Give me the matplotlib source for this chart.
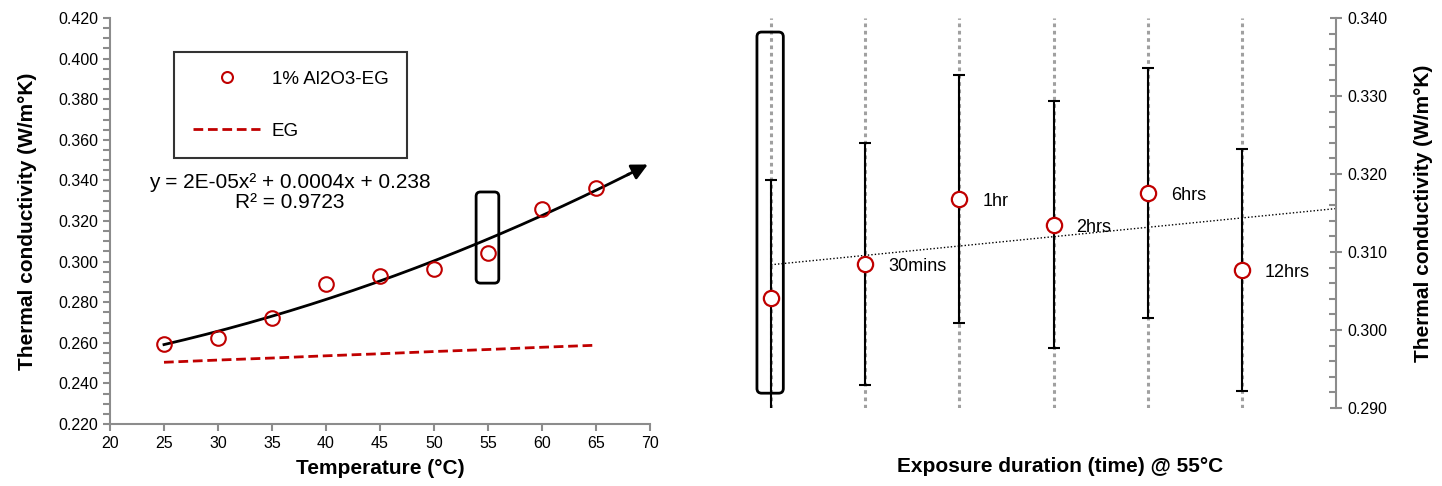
import matplotlib
matplotlib.use("Agg")
import matplotlib.pyplot as plt
from matplotlib.patches import FancyBboxPatch
from matplotlib.ticker import MultipleLocator, FormatStrFormatter
import numpy as np

plt.rcParams['font.family'] = ['Liberation Sans', 'DejaVu Sans']

# left panel: conductivity vs temperature
temps = [25, 30, 35, 40, 45, 50, 55, 60, 65]
k_al2o3 = [0.2595, 0.2625, 0.272, 0.289, 0.293, 0.2965, 0.304, 0.326, 0.3365]
k_eg = [0.2504, 0.2515, 0.2525, 0.2536, 0.2546, 0.2557, 0.2567, 0.2578, 0.2588]

# right panel: conductivity vs exposure time at 55 C
durations = ['', '30mins', '1hr', '2hrs', '6hrs', '12hrs']
k_exposure = [0.3041, 0.3085, 0.3168, 0.3135, 0.3176, 0.3077]
k_err = [0.0151, 0.0155, 0.0159, 0.0158, 0.0160, 0.0155]

red = '#c00000'
grey = '#8c8c8c'

fig = plt.figure(figsize=(14.42, 4.86), dpi=100)
ax1 = fig.add_axes([110 / 1442, 1 - 424 / 486, 540 / 1442, 406 / 486])
ax2 = fig.add_axes([724 / 1442, 1 - 408 / 486, 612 / 1442, 390 / 486])

# ---- left ----
ax1.plot(temps, k_al2o3, 'o', ms=10.5, mfc='none', mec=red, mew=1.5,
         label='1% Al2O3-EG', zorder=3)
ax1.plot(temps, k_eg, '--', color=red, lw=2, dashes=(3.5, 1.7), label='EG')

coef = np.polyfit(temps, k_al2o3, 2)
xs = np.linspace(25, 68, 200)
ax1.plot(xs, np.polyval(coef, xs), color='black', lw=2, zorder=2)
ax1.annotate('', xy=(69.8, np.polyval(coef, 69.8)), xytext=(67.9, np.polyval(coef, 67.9)),
             arrowprops=dict(arrowstyle='-|>', color='black', lw=2,
                             mutation_scale=24, shrinkA=0, shrinkB=0))

ax1.text(0.333, 0.57, 'y = 2E-05x² + 0.0004x + 0.238\nR² = 0.9723',
         transform=ax1.transAxes, ha='center', va='center', fontsize=15,
         linespacing=1.12)

ax1.add_patch(FancyBboxPatch((53.9, 0.2894), 2.1, 0.0449,
                             boxstyle='round,pad=0,rounding_size=0.4',
                             mutation_aspect=0.00532, fc='none', ec='black',
                             lw=2, zorder=4))

ax1.set_xlim(20, 70)
ax1.set_ylim(0.22, 0.42)
ax1.xaxis.set_major_locator(MultipleLocator(5))
ax1.yaxis.set_major_locator(MultipleLocator(0.02))
ax1.yaxis.set_minor_locator(MultipleLocator(0.005))
ax1.yaxis.set_major_formatter(FormatStrFormatter('%.3f'))
for s in ['top', 'right']:
    ax1.spines[s].set_visible(False)
for s in ['left', 'bottom']:
    ax1.spines[s].set_color(grey)
    ax1.spines[s].set_linewidth(1.5)
ax1.tick_params(which='both', color=grey, width=1.5, labelsize=11.5)
ax1.tick_params(which='major', length=5)
ax1.tick_params(which='minor', length=5)
ax1.set_xlabel('Temperature (°C)', fontsize=15, fontweight='bold', labelpad=6)
ax1.set_ylabel('Thermal conductivity (W/m°K)', fontsize=15, fontweight='bold', labelpad=15)

leg = ax1.legend(loc='upper left', bbox_to_anchor=(64 / 540, 1 - 34 / 406),
                 fontsize=13.5, frameon=True, fancybox=False, borderpad=1.0,
                 handlelength=3.6, handletextpad=0.6, labelspacing=1.85,
                 borderaxespad=0, markerscale=0.75)
leg.get_frame().set_edgecolor('black')
leg.get_frame().set_linewidth(1.5)

# ---- right ----
pos = np.arange(len(durations))
ax2.errorbar(pos, k_exposure, yerr=k_err, fmt='none', ecolor='black',
             elinewidth=1.5, capsize=4.5, capthick=1.5, zorder=3)
ax2.plot(pos, k_exposure, 'o', ms=11, mfc='white', mec=red, mew=1.6, zorder=5)

lin = np.polyfit(pos, k_exposure, 1)
xt = np.array([0, 6])
ax2.plot(xt, np.polyval(lin, xt), color='black', lw=1, linestyle=(0, (1, 1.5)), zorder=2)

for x, y, lab in zip(pos, k_exposure, durations):
    if lab:
        ax2.annotate(lab, (x, y), xytext=(23, -3), textcoords='offset pixels',
                     ha='left', va='center', fontsize=13)

ax2.add_patch(FancyBboxPatch((-0.15, 0.2919), 0.28, 0.0463,
                             boxstyle='round,pad=0,rounding_size=0.05',
                             mutation_aspect=0.01205, fc='none', ec='black',
                             lw=2, zorder=6))

ax2.set_xlim(-0.5, 6)
ax2.set_ylim(0.29, 0.34)
ax2.set_xticks(pos)
ax2.set_xticklabels([])
ax2.tick_params(axis='x', length=0)
ax2.grid(axis='x', color='#a0a0a0', lw=2.2, linestyle=(0, (1.2, 1.2)), zorder=1)
ax2.set_axisbelow(True)
ax2.yaxis.tick_right()
ax2.yaxis.set_label_position('right')
ax2.yaxis.set_major_locator(MultipleLocator(0.01))
ax2.yaxis.set_minor_locator(MultipleLocator(0.002))
ax2.yaxis.set_major_formatter(FormatStrFormatter('%.3f'))
for s in ['top', 'left', 'bottom']:
    ax2.spines[s].set_visible(False)
ax2.spines['right'].set_color(grey)
ax2.spines['right'].set_linewidth(1.5)
ax2.tick_params(axis='y', which='both', color=grey, width=1.5, labelsize=11.5)
ax2.tick_params(axis='y', which='major', direction='inout', length=9, pad=4)
ax2.tick_params(axis='y', which='minor', direction='in', length=5)
ax2.set_ylabel('Thermal conductivity (W/m°K)', fontsize=15, fontweight='bold', labelpad=19)
ax2.set_xlabel('Exposure duration (time) @ 55°C', fontsize=15, fontweight='bold')
ax2.xaxis.set_label_coords(0.549, -0.125)

fig.savefig('out.png', dpi=100)
